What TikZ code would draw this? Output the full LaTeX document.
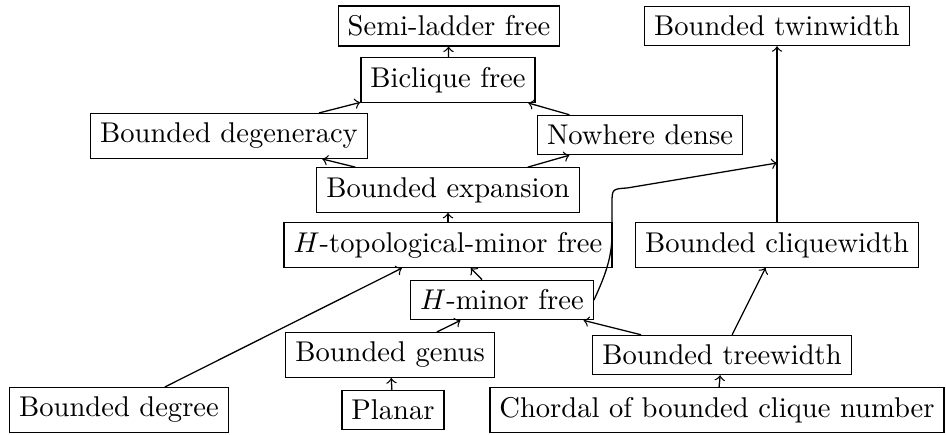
\documentclass[tikz,border=0pt]{standalone}
\begin{document}
\begin{tikzpicture}[x=0.35pt,y=-0.35pt, line width=0.45pt, box/.style={draw}, edge/.style={->}]
\useasboundingbox (0,0) rectangle (946,435);
\node[box] (sl) at (449,26) {Semi-ladder free};
\node[box] (tw) at (777,26) {Bounded twinwidth};
\node[box] (bf) at (448,80) {Biclique free};
\node[box] (dg) at (229,136) {Bounded degeneracy};
\node[box] (nd) at (640,135) {Nowhere dense};
\node[box] (be) at (448,190) {Bounded expansion};
\node[box] (ht) at (448,245) {$H$-topological-minor free};
\node[box] (cw) at (777,245) {Bounded cliquewidth};
\node[box] (hm) at (502,300) {$H$-minor free};
\node[box] (bg) at (390,355) {Bounded genus};
\node[box] (tr) at (722,355) {Bounded treewidth};
\node[box] (bd) at (119,410) {Bounded degree};
\node[box] (pl) at (393,410) {Planar};
\node[box] (ch) at (717,410) {Chordal of bounded clique number};
\coordinate (m) at (777,163);
\draw[edge] (bf) -- (sl);
\draw[edge] (dg) -- (bf);
\draw[edge] (nd) -- (bf);
\draw[edge] (be) -- (dg);
\draw[edge] (be) -- (nd);
\draw[edge] (ht) -- (be);
\draw[edge] (hm) -- (ht);
\draw[edge] (bd) -- (ht);
\draw[edge] (bg) -- (hm);
\draw[edge] (tr) -- (hm);
\draw[edge] (pl) -- (bg);
\draw[edge] (ch) -- (tr);
\draw[edge] (tr) -- (cw);
\draw[edge] (cw) -- (tw);
\draw[edge] (hm.east) .. controls (609,268) and (612,252) .. (612,232) -- (612,204) .. controls (612,189) .. (627,188) -- (m);
\end{tikzpicture}
\end{document}
